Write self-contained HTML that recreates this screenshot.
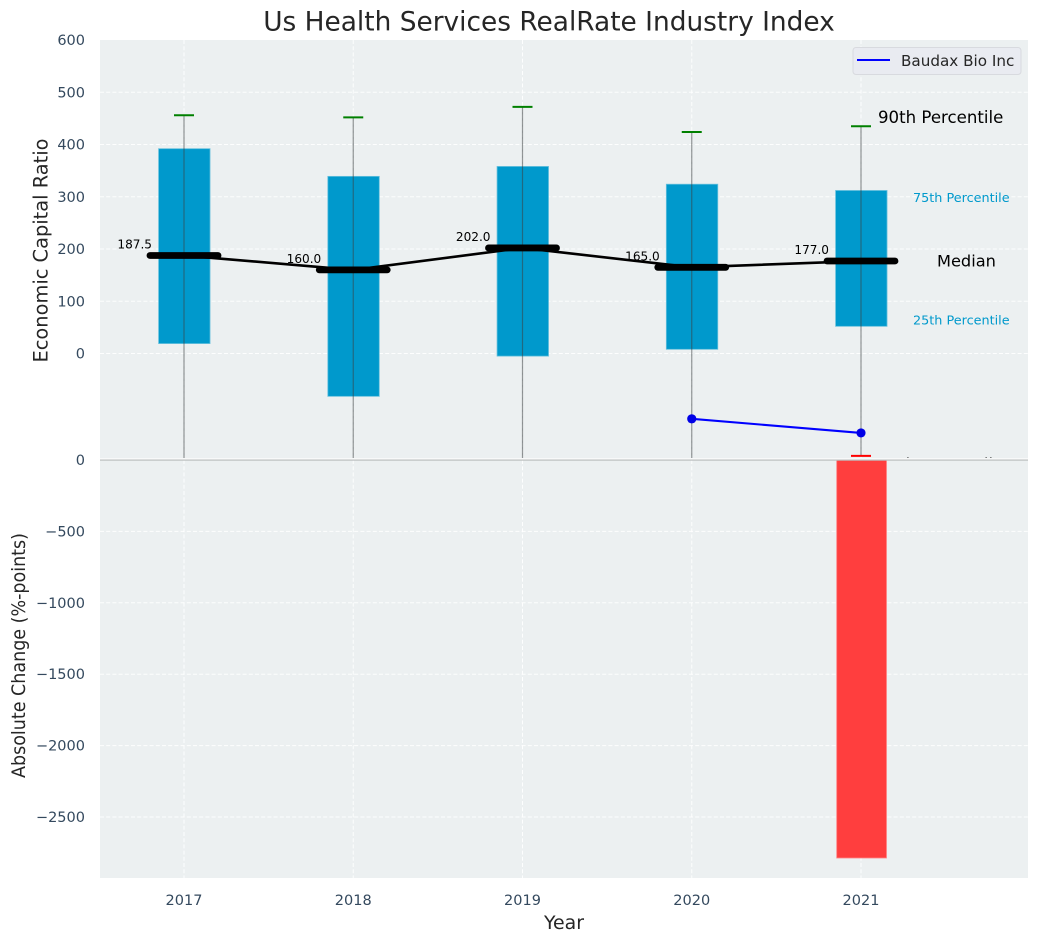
<!DOCTYPE html>
<html lang="en">
<head>
<meta charset="utf-8">
<title>Us Health Services RealRate Industry Index</title>
<style>
html,body{margin:0;padding:0;background:#fff;}
svg{display:block;font-family:"DejaVu Sans","Liberation Sans",sans-serif;}
</style>
</head>
<body>
<svg id="chart" xmlns="http://www.w3.org/2000/svg" width="1039" height="942" viewBox="0 0 1039 942">
<defs>
<clipPath id="top-clip"><rect x="100" y="40" width="928" height="418.5"/></clipPath>
<clipPath id="bottom-clip"><rect x="100" y="460" width="928" height="418"/></clipPath>
</defs>
<rect x="0" y="0" width="1039" height="942" fill="#ffffff"/>
<text x="549" y="30.5" text-anchor="middle" font-size="26.4" fill="#262626">Us Health Services RealRate Industry Index</text>
<rect x="100" y="40" width="928" height="418.5" fill="#ecf0f1"/>
<g id="top-grid"></g>
<g id="top-marks" clip-path="url(#top-clip)"></g>
<g id="top-labels"></g>
<rect x="100" y="458" width="928" height="2" fill="#f8f9f9"/>
<rect x="100" y="460" width="928" height="418" fill="#ecf0f1"/>
<g id="bottom-grid"></g>
<g id="bottom-marks" clip-path="url(#bottom-clip)"></g>
<rect x="100" y="459.5" width="928" height="1.2" fill="#bcbfc0"/>
<g id="axis-labels"></g>
<text transform="translate(47.5,250.5) rotate(-90)" text-anchor="middle" font-size="19.4" fill="#262626">Economic Capital Ratio</text>
<text transform="translate(25,655.5) rotate(-90)" text-anchor="middle" font-size="18.6" textLength="245" lengthAdjust="spacingAndGlyphs" fill="#262626">Absolute Change (%-points)</text>
<text x="564" y="929" text-anchor="middle" font-size="18.9" fill="#262626">Year</text>
<g>
<rect x="853" y="47.5" width="168" height="27" rx="3" fill="#e9ebf1" stroke="#d8dadf" stroke-width="1"/>
<line x1="857" y1="60" x2="890" y2="60" stroke="#0000ff" stroke-width="2"/>
<text x="901" y="66" font-size="15.2" fill="#262626">Baudax Bio Inc</text>
</g>
</svg>
<script>
const years = [2017, 2018, 2019, 2020, 2021];
const p90 = [456, 452, 472, 424, 435];
const p75 = [392, 339, 358, 324, 312];
const medians = [187.5, 160.0, 202.0, 165.0, 177.0];
const p25 = [19, -82, -5, 8, 52];
const p10 = [-400, -400, -400, -400, -196];
const companyYears = [2020, 2021];
const companyValues = [-125, -152];
const changeYears = [2021];
const changeValues = [-2787];
const topTicks = [0, 100, 200, 300, 400, 500, 600];
const topTickLabels = ["0", "100", "200", "300", "400", "500", "600"];
const bottomTicks = [0, -500, -1000, -1500, -2000, -2500];
const bottomTickLabels = ["0", "\u2212500", "\u22121000", "\u22121500", "\u22122000", "\u22122500"];

const SVGNS = "http://www.w3.org/2000/svg";
function xScale(y) { return 184 + (y - 2017) * 169.25; }
function yTop(v) { return 353.5 - v * 0.5225; }
function yBottom(v) { return 460 - v * 0.1428; }
function make(parentId, tag, attrs, text) {
  const el = document.createElementNS(SVGNS, tag);
  for (const k in attrs) el.setAttribute(k, attrs[k]);
  if (text !== undefined) el.textContent = text;
  document.getElementById(parentId).appendChild(el);
  return el;
}
const GRID = { stroke: "#ffffff", "stroke-width": 1, "stroke-dasharray": "4 2.2", "stroke-opacity": 0.9 };
const TICK_SIZE = 14.5;

topTicks.forEach(function (t, i) {
  if (t < 600) {
    const g = make("top-grid", "line", Object.assign({ x1: 100, x2: 1028, y1: yTop(t), y2: yTop(t) }, GRID));
    
    
  }
  const l = make("axis-labels", "text", { x: 85, y: yTop(t) + 5, "text-anchor": "end", "font-size": TICK_SIZE, fill: "#34495e" }, topTickLabels[i]);
  
  
});
bottomTicks.forEach(function (t, i) {
  if (t < 0) {
    const g = make("bottom-grid", "line", Object.assign({ x1: 100, x2: 1028, y1: yBottom(t), y2: yBottom(t) }, GRID));
    
    
  }
  const l = make("axis-labels", "text", { x: 85, y: yBottom(t) + 5, "text-anchor": "end", "font-size": TICK_SIZE, fill: "#34495e" }, bottomTickLabels[i]);
  
  
});
years.forEach(function (yr) {
  const a = make("top-grid", "line", Object.assign({ x1: xScale(yr), x2: xScale(yr), y1: 40, y2: 458 }, GRID));
  
  
  const b = make("bottom-grid", "line", Object.assign({ x1: xScale(yr), x2: xScale(yr), y1: 460, y2: 878 }, GRID));
  
  
  const l = make("axis-labels", "text", { x: xScale(yr), y: 905, "text-anchor": "middle", "font-size": TICK_SIZE, fill: "#34495e" }, String(yr));
  
  
});

const BAR_HALF = 0.152;
years.forEach(function (yr, i) {
  const x0 = xScale(yr - BAR_HALF) + 0.3, x1 = xScale(yr + BAR_HALF) + 0.3;
  const bar = make("top-marks", "rect", { x: x0, y: yTop(p75[i]), width: x1 - x0, height: yTop(p25[i]) - yTop(p75[i]), fill: "#0099cc", stroke: "#66c0dd", "stroke-width": 0.8 });
  
  
});
years.forEach(function (yr, i) {
  const w = make("top-marks", "line", { x1: xScale(yr), x2: xScale(yr), y1: yTop(p90[i]), y2: yTop(p10[i]), stroke: "#3a3f42", "stroke-opacity": 0.55, "stroke-width": 1.2 });
  
  
  const cap = make("top-marks", "line", { x1: xScale(yr) - 10, x2: xScale(yr) + 10, y1: yTop(p90[i]), y2: yTop(p90[i]), stroke: "#008000", "stroke-width": 2 });
  
  
  const low = make("top-marks", "line", { x1: xScale(yr) - 10, x2: xScale(yr) + 10, y1: yTop(p10[i]), y2: yTop(p10[i]), stroke: "#ff0000", "stroke-width": 2 });
  
  
});
const medianLine = make("top-marks", "polyline", { points: years.map(function (yr, i) { return xScale(yr) + "," + yTop(medians[i]); }).join(" "), fill: "none", stroke: "#000000", "stroke-width": 2.6 });


years.forEach(function (yr, i) {
  const m = make("top-marks", "line", { x1: xScale(yr) - 34, x2: xScale(yr) + 34, y1: yTop(medians[i]), y2: yTop(medians[i]), stroke: "#000000", "stroke-width": 6.8, "stroke-linecap": "round" });
  
  
  const t = make("top-labels", "text", { x: xScale(yr) - 32, y: yTop(medians[i]) - 7, "text-anchor": "end", "font-size": 12.1, fill: "#000000" }, medians[i].toFixed(1));
  
  
});
const company = make("top-marks", "polyline", { points: companyYears.map(function (yr, i) { return xScale(yr) + "," + yTop(companyValues[i]); }).join(" "), fill: "none", stroke: "#0000ff", "stroke-width": 2.1 });


companyYears.forEach(function (yr, i) {
  const pt = make("top-marks", "circle", { cx: xScale(yr), cy: yTop(companyValues[i]), r: 4.6, fill: "#0000e6" });
  
  
});

const last = years.length - 1;
const lastX = xScale(years[last]);
const a90 = make("top-labels", "text", { x: lastX + 17, y: yTop(p90[last]) - 3, "font-size": 16.6, fill: "#000000" }, "90th Percentile");


const a75 = make("top-labels", "text", { x: lastX + 52, y: yTop(p75[last]) + 11.5, "font-size": 12.8, fill: "#0099cc" }, "75th Percentile");


const aMed = make("top-labels", "text", { x: lastX + 76, y: yTop(medians[last]) + 5.5, "font-size": 16.2, fill: "#000000" }, "Median");


const a25 = make("top-labels", "text", { x: lastX + 52, y: yTop(p25[last]) - 2, "font-size": 12.8, fill: "#0099cc" }, "25th Percentile");


const a10 = make("top-labels", "text", { x: lastX + 17, y: yTop(p10[last]) + 14.8, "font-size": 16.6, fill: "#000000" }, "10th Percentile");



changeYears.forEach(function (yr, i) {
  const x0 = xScale(yr - 0.147) + 0.6, x1 = xScale(yr + 0.147) + 0.6;
  const bar = make("bottom-marks", "rect", { x: x0, y: yBottom(0), width: x1 - x0, height: yBottom(changeValues[i]) - yBottom(0), fill: "#ff3e3e", stroke: "#ff7f7f", "stroke-width": 0.8 });
  
  
});
</script>
</body>
</html>
